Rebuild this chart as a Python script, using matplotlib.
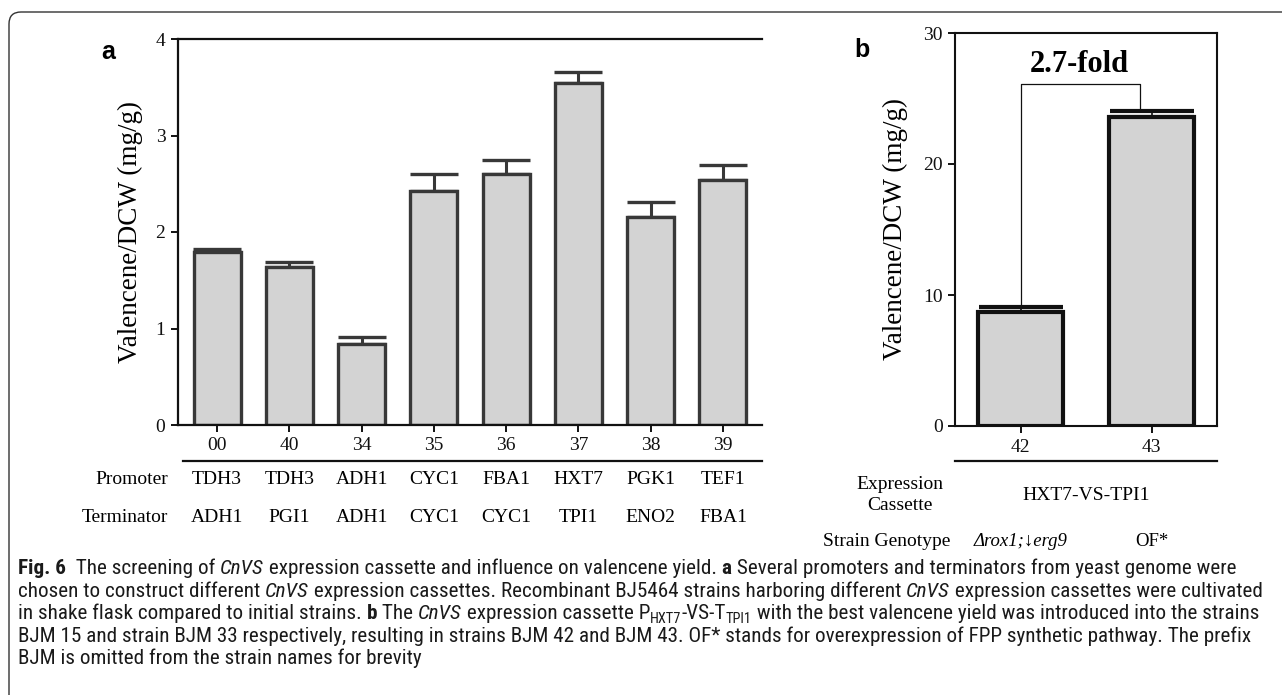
import os
import matplotlib
matplotlib.use("Agg")
import matplotlib.pyplot as plt
from matplotlib import font_manager
from matplotlib.patches import FancyBboxPatch
from matplotlib.lines import Line2D
from matplotlib.transforms import IdentityTransform, blended_transform_factory

# panel a data
strains_a = ["00", "40", "34", "35", "36", "37", "38", "39"]
promoters = ["TDH3", "TDH3", "ADH1", "CYC1", "FBA1", "HXT7", "PGK1", "TEF1"]
terminators = ["ADH1", "PGI1", "ADH1", "CYC1", "CYC1", "TPI1", "ENO2", "FBA1"]
vals_a = [1.79, 1.64, 0.84, 2.42, 2.60, 3.54, 2.16, 2.54]
err_a = [0.03, 0.05, 0.07, 0.18, 0.15, 0.12, 0.15, 0.15]

# panel b data
strains_b = ["42", "43"]
vals_b = [8.7, 23.6]
err_b = [0.35, 0.45]
cassette = "HXT7-VS-TPI1"
genotypes = ["\u0394rox1;\u2193erg9", "OF*"]
fold_text = "2.7-fold"
bracket_y = 26.1

W, H = 1282, 695
SERIF = ["Liberation Serif", "DejaVu Serif"]


def condensed_font():
    fonts = font_manager.fontManager.ttflist
    names = {f.name for f in fonts}
    for n in ["Liberation Sans Narrow", "Roboto Condensed", "Open Sans Condensed",
              "Noto Sans Condensed", "Arial Narrow"]:
        if n in names:
            return {"family": [n, "DejaVu Sans"]}
    for fam in ["Noto Sans", "Open Sans", "Roboto", "DejaVu Sans", "Inter", "Lato"]:
        for f in fonts:
            base = os.path.basename(f.fname)
            if f.name == fam and "Condensed" in base and "Semi" not in base \
                    and "Extra" not in base:
                return {"family": [fam, "DejaVu Sans"], "fontstretch": "condensed"}
    return {"family": ["Liberation Sans", "DejaVu Sans"]}


CAP = condensed_font()

plt.rcParams["font.family"] = SERIF


def fx(px):
    return px / W


def fy(py):
    return 1 - py / H


fig = plt.figure(figsize=(W / 100, H / 100), dpi=100)

# outer rounded frame
frame = FancyBboxPatch((9, -40), W + 60, H + 40 - 12,
                       boxstyle="round,pad=0,rounding_size=12",
                       transform=IdentityTransform(), fill=False,
                       edgecolor="#333333", linewidth=1.0, clip_on=False)
fig.patches.append(frame)

# ---------------- panel a ----------------
ax = fig.add_axes([fx(178), fy(425), fx(762) - fx(178), fy(39) - fy(425)])
xa = list(range(len(strains_a)))
ax.bar(xa, vals_a, width=0.65, color="#d3d3d3", edgecolor="#383838",
       linewidth=2.4, zorder=2)
ax.errorbar(xa, vals_a, yerr=[[0] * len(err_a), err_a], fmt="none",
            ecolor="#383838", elinewidth=2.2, capsize=17, capthick=2.4, zorder=1)
ax.set_xlim(-0.54, 7.54)
ax.set_ylim(0, 4)
ax.set_yticks([0, 1, 2, 3, 4])
ax.set_xticks(xa)
ax.set_xticklabels(strains_a)
for s in ["left", "bottom", "top"]:
    ax.spines[s].set_linewidth(1.6)
    ax.spines[s].set_color("#111111")
ax.spines["right"].set_visible(False)
ax.tick_params(axis="both", direction="out", length=5, width=1.4,
               labelsize=14, colors="#111111", pad=4)
ax.set_ylabel("Valencene/DCW (mg/g)", fontsize=19.5)
ax.yaxis.set_label_coords((143 - 178) / (762 - 178), 0.5)

tr_a = blended_transform_factory(ax.transData, fig.transFigure)
fig.add_artist(Line2D([fx(183), fx(762)], [fy(461), fy(461)], color="#111111", lw=1.6))
for i in xa:
    ax.text(i, fy(480), promoters[i], transform=tr_a, ha="center", va="center", fontsize=14)
    ax.text(i, fy(517), terminators[i], transform=tr_a, ha="center", va="center", fontsize=14)
fig.text(fx(168), fy(480), "Promoter", ha="right", va="center", fontsize=14)
fig.text(fx(168), fy(517), "Terminator", ha="right", va="center", fontsize=14)
fig.text(fx(108), fy(52), "a", ha="center", va="center", fontsize=18,
         fontweight="bold", family="Liberation Sans")

# ---------------- panel b ----------------
bx = fig.add_axes([fx(955), fy(426), fx(1217) - fx(955), fy(33) - fy(426)])
xb = [0, 1]
bx.bar(xb, vals_b, width=0.65, color="#d3d3d3", edgecolor="#111111",
       linewidth=3.0, zorder=2)
bx.errorbar(xb, vals_b, yerr=[[0, 0], err_b], fmt="none", ecolor="#111111",
            elinewidth=1.2, capsize=30, capthick=3.0, zorder=1)
bx.plot([0, 0, 0.916, 0.916], [vals_b[0] + err_b[0], bracket_y, bracket_y,
        vals_b[1] + err_b[1]], color="#111111", lw=0.9, zorder=3)
bx.text(0.45, 27.6, fold_text, ha="center", va="center", fontsize=22,
        fontweight="bold")
bx.set_xlim(-0.5, 1.5)
bx.set_ylim(0, 30)
bx.set_yticks([0, 10, 20, 30])
bx.set_xticks(xb)
bx.set_xticklabels(strains_b)
for s in bx.spines.values():
    s.set_linewidth(1.5)
    s.set_color("#111111")
bx.tick_params(axis="both", direction="out", length=5, width=1.4,
               labelsize=14, colors="#111111", pad=4)
bx.set_ylabel("Valencene/DCW (mg/g)", fontsize=19.5)
bx.yaxis.set_label_coords((908 - 955) / (1217 - 955), 0.5)

tr_b = blended_transform_factory(bx.transData, fig.transFigure)
fig.add_artist(Line2D([fx(955), fx(1217)], [fy(461), fy(461)], color="#111111", lw=1.6))
fig.text(fx(900), fy(495), "Expression\nCassette", ha="center", va="center",
         fontsize=14, linespacing=1.3)
bx.text(0.5, fy(496), cassette, transform=tr_b, ha="center", va="center", fontsize=14)
fig.text(fx(950), fy(541), "Strain Genotype", ha="right", va="center", fontsize=14)
bx.text(0, fy(541), genotypes[0], transform=tr_b, ha="center", va="center",
        fontsize=13.5, style="italic")
bx.text(1.0, fy(541), genotypes[1], transform=tr_b, ha="center", va="center", fontsize=13.5)
fig.text(fx(862), fy(50), "b", ha="center", va="center", fontsize=18,
         fontweight="bold", family="Liberation Sans")

# ---------------- caption ----------------
R = "r"
B = "b"
I = "i"
S = "s"
caption = [
    [("Fig. 6", B), ("  The screening of ", R), ("CnVS", I),
     (" expression cassette and influence on valencene yield. ", R), ("a", B),
     (" Several promoters and terminators from yeast genome were", R)],
    [("chosen to construct different ", R), ("CnVS", I),
     (" expression cassettes. Recombinant BJ5464 strains harboring different ", R),
     ("CnVS", I), (" expression cassettes were cultivated", R)],
    [("in shake flask compared to initial strains. ", R), ("b", B), (" The ", R),
     ("CnVS", I), (" expression cassette P", R), ("HXT7", S), ("-VS-T", R), ("TPI1", S),
     (" with the best valencene yield was introduced into the strains", R)],
    [("BJM 15 and strain BJM 33 respectively, resulting in strains BJM 42 and BJM 43. "
      "OF* stands for overexpression of FPP synthetic pathway. The prefix", R)],
    [("BJM is omitted from the strain names for brevity", R)],
]
baselines = [574, 597, 619, 642, 664]

renderer = fig.canvas.get_renderer()


def props(kind, size):
    p = dict(CAP, fontsize=size, color="#1a1a1a")
    if kind == B:
        p["fontweight"] = "bold"
    if kind == I:
        p["style"] = "italic"
    if kind == S:
        p["fontsize"] = size * 0.68
    return p


def run_width(txt, p):
    t1 = fig.text(0, 0, "|" + txt + "|", **p)
    t2 = fig.text(0, 0, "||", **p)
    w = t1.get_window_extent(renderer).width - t2.get_window_extent(renderer).width
    t1.remove()
    t2.remove()
    return w


base_size = 12.5
widest = max(sum(run_width(t, props(k, base_size)) for t, k in line)
             for line in caption)
cap_size = min(base_size * (1250 / widest), 16.5)

for line, yb in zip(caption, baselines):
    x = 18
    for txt, kind in line:
        p = props(kind, cap_size)
        dy = -4 if kind == S else 0
        fig.text(x, H - yb + dy, txt, transform=IdentityTransform(),
                 ha="left", va="baseline", **p)
        x += run_width(txt, p)

fig.savefig("out.png", dpi=100)
plt.close(fig)
